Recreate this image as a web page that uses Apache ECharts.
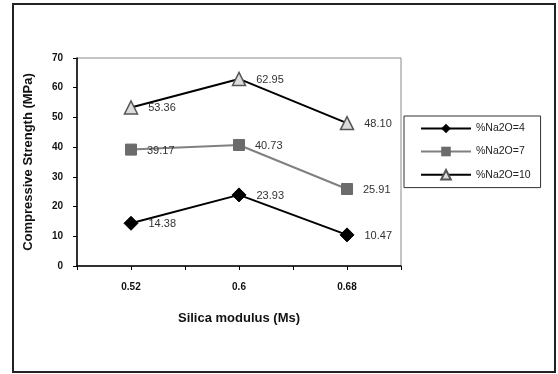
<!DOCTYPE html>
<html>
<head>
<meta charset="utf-8">
<script src="https://cdn.jsdelivr.net/npm/echarts@6/dist/echarts.min.js"></script>
<style>
  html, body { margin: 0; padding: 0; background: #fff; }
  #chart { width: 558px; height: 374px; }
</style>
</head>
<body>
<div id="chart"></div>
<script>
// data
const modulus = ["0.52", "0.6", "0.68"];
const na2o4 = [14.38, 23.93, 10.47];
const na2o7 = [39.17, 40.73, 25.91];
const na2o10 = [53.36, 62.95, 48.10];
const yTicks = [0, 10, 20, 30, 40, 50, 60, 70];

const font = "Liberation Sans, Arial, sans-serif";

const chart = echarts.init(document.getElementById("chart"), null, { renderer: "canvas" });

// data label shown to the right of each marker
const valueLabel = {
  show: true,
  position: "right",
  distance: 10,
  offset: [0, 1],
  color: "#333",
  fontFamily: font,
  fontSize: 11,
  formatter: (p) => p.value.toFixed(2),
};

chart.setOption({
  backgroundColor: "#fff",
  animation: false,
  textStyle: { fontFamily: font },
  // outer chart frame
  graphic: [
    {
      type: "rect",
      shape: { x: 13, y: 4, width: 542, height: 368 },
      style: { fill: "none", stroke: "#222", lineWidth: 2 },
      silent: true,
    },
  ],
  grid: {
    left: 77,
    top: 58,
    width: 324,
    height: 208,
    show: true,
    borderColor: "#8a8a8a",
    borderWidth: 1,
  },
  legend: {
    left: 404,
    top: 116,
    orient: "vertical",
    itemWidth: 50,
    itemHeight: 12,
    itemGap: 12,
    padding: [7, 10, 7, 16],
    borderColor: "#333",
    borderWidth: 1,
    textStyle: { fontFamily: font, fontSize: 10.5, color: "#222" },
    data: ["%Na2O=4", "%Na2O=7", "%Na2O=10"],
  },
  xAxis: [
    {
      type: "category",
      data: modulus,
      boundaryGap: true,
      name: "Silica modulus (Ms)",
      nameLocation: "middle",
      nameGap: 46,
      nameTextStyle: { fontFamily: font, fontSize: 13, fontWeight: "bold", color: "#111" },
      axisLine: { lineStyle: { color: "#000", width: 1.5 } },
      axisTick: { show: true, length: 4, lineStyle: { color: "#000" } },
      axisLabel: { fontFamily: font, fontSize: 10, fontWeight: "bold", color: "#111", margin: 16 },
      splitLine: { show: false },
    },
    {
      // second axis only for the ticks under each category
      type: "category",
      data: modulus,
      position: "bottom",
      boundaryGap: true,
      axisLine: { show: false },
      axisTick: { show: true, alignWithLabel: true, length: 4, lineStyle: { color: "#000" } },
      axisLabel: { show: false },
      splitLine: { show: false },
    },
  ],
  yAxis: {
    type: "value",
    min: yTicks[0],
    max: yTicks[yTicks.length - 1],
    interval: 10,
    name: "Compressive Strength (MPa)",
    nameLocation: "middle",
    nameGap: 42,
    nameTextStyle: { fontFamily: font, fontSize: 13, fontWeight: "bold", color: "#111" },
    axisLine: { show: true, lineStyle: { color: "#000", width: 1.5 } },
    axisTick: { show: true, length: 4, lineStyle: { color: "#000" } },
    axisLabel: { fontFamily: font, fontSize: 10, fontWeight: "bold", color: "#111", margin: 14 },
    splitLine: { show: false },
  },
  series: [
    {
      name: "%Na2O=4",
      type: "line",
      data: na2o4,
      symbol: "diamond",
      symbolSize: 14,
      lineStyle: { color: "#000", width: 2 },
      itemStyle: { color: "#000", borderColor: "#000" },
      label: valueLabel,
    },
    {
      name: "%Na2O=7",
      type: "line",
      data: na2o7,
      symbol: "rect",
      symbolSize: 11,
      lineStyle: { color: "#808080", width: 2 },
      itemStyle: { color: "#6b6b6b", borderColor: "#6b6b6b" },
      label: valueLabel,
      z: 1,
    },
    {
      name: "%Na2O=10",
      type: "line",
      data: na2o10,
      symbol: "triangle",
      symbolSize: 13,
      lineStyle: { color: "#000", width: 2 },
      itemStyle: { color: "#dcdcdc", borderColor: "#555", borderWidth: 1.5 },
      label: valueLabel,
    },
  ],
});
</script>
</body>
</html>
